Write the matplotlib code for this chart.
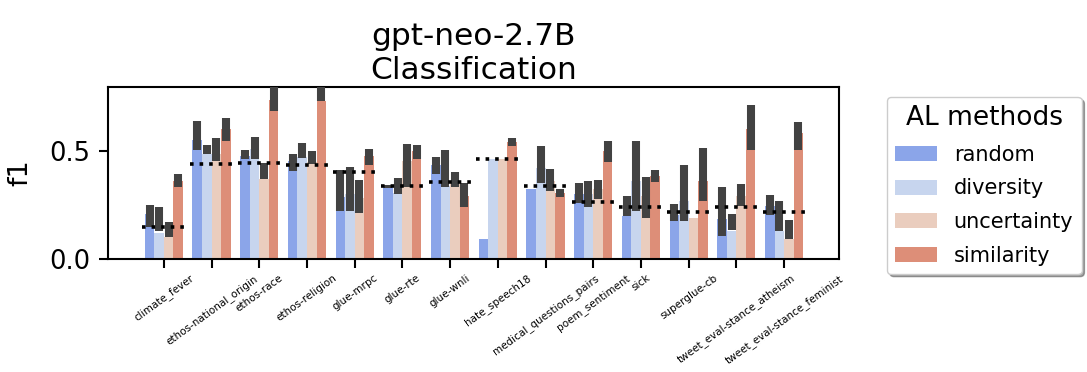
import colorsys

import matplotlib
matplotlib.use('Agg')
import matplotlib.pyplot as plt
import numpy as np

datasets = ["climate_fever", "ethos-national_origin", "ethos-race", "ethos-religion",
            "glue-mrpc", "glue-rte", "glue-wnli", "hate_speech18",
            "medical_questions_pairs", "poem_sentiment", "sick", "superglue-cb",
            "tweet_eval-stance_atheism", "tweet_eval-stance_feminist"]
methods = ["random", "diversity", "uncertainty", "similarity"]

# mean f1 per method
random_f1 = [0.21, 0.555, 0.48, 0.455, 0.29, 0.338, 0.435, 0.093, 0.326, 0.30, 0.20, 0.205, 0.185, 0.248]
diversity_f1 = [0.123, 0.49, 0.51, 0.475, 0.30, 0.307, 0.338, 0.467, 0.424, 0.30, 0.361, 0.27, 0.131, 0.131]
uncertainty_f1 = [0.10, 0.49, 0.374, 0.45, 0.283, 0.455, 0.361, 0.467, 0.364, 0.326, 0.294, 0.19, 0.291, 0.092]
similarity_f1 = [0.364, 0.606, 0.74, 0.735, 0.478, 0.501, 0.294, 0.544, 0.307, 0.501, 0.385, 0.361, 0.606, 0.584]

# confidence intervals (low / high)
random_lo = [0.151, 0.505, 0.463, 0.408, 0.221, 0.33, 0.393, 0.093, 0.326, 0.26, 0.201, 0.175, 0.107, 0.206]
random_hi = [0.249, 0.64, 0.505, 0.49, 0.413, 0.345, 0.475, 0.093, 0.326, 0.354, 0.294, 0.256, 0.335, 0.299]
diversity_lo = [0.128, 0.49, 0.463, 0.47, 0.221, 0.304, 0.335, 0.467, 0.354, 0.244, 0.221, 0.175, 0.136, 0.131]
diversity_hi = [0.242, 0.53, 0.569, 0.54, 0.428, 0.377, 0.509, 0.467, 0.525, 0.361, 0.548, 0.435, 0.209, 0.268]
uncertainty_lo = [0.10, 0.455, 0.374, 0.444, 0.216, 0.335, 0.335, 0.467, 0.315, 0.28, 0.19, 0.19, 0.248, 0.092]
uncertainty_hi = [0.17, 0.564, 0.447, 0.501, 0.369, 0.537, 0.403, 0.467, 0.42, 0.369, 0.382, 0.19, 0.349, 0.179]
similarity_lo = [0.335, 0.548, 0.688, 0.735, 0.439, 0.463, 0.242, 0.525, 0.287, 0.45, 0.357, 0.268, 0.506, 0.509]
similarity_hi = [0.394, 0.657, 0.86, 0.86, 0.512, 0.53, 0.354, 0.564, 0.326, 0.551, 0.413, 0.517, 0.716, 0.637]

# zero-shot baseline (dotted lines)
baseline_f1 = [0.151, 0.44, 0.447, 0.436, 0.405, 0.341, 0.357, 0.467, 0.338, 0.263, 0.24, 0.218, 0.244, 0.218]


def desaturate(color, prop):
    h, l, s = colorsys.rgb_to_hls(*color[:3])
    return colorsys.hls_to_rgb(h, l, s * prop)


cmap = plt.cm.coolwarm
colors = [desaturate(cmap(v), 0.75) for v in (0.2, 0.4, 0.6, 0.8)]

means = [random_f1, diversity_f1, uncertainty_f1, similarity_f1]
lows = [random_lo, diversity_lo, uncertainty_lo, similarity_lo]
highs = [random_hi, diversity_hi, uncertainty_hi, similarity_hi]

fig = plt.figure(figsize=(10.87, 3.72), dpi=100)
ax = fig.add_axes([0.0994, 0.3038, 0.6724, 0.4624])

x = np.arange(len(datasets))
width = 0.2
for k, method in enumerate(methods):
    pos = x - 0.4 + width * (k + 0.5)
    ax.bar(pos, means[k], width=width, color=colors[k], label=method, zorder=2)
    ax.vlines(pos, lows[k], highs[k], color='.26', linewidth=5.8, zorder=3,
              capstyle='butt')

for i, b in enumerate(baseline_f1):
    ax.hlines(b, i - 0.45, i + 0.45, colors='black', linestyles=':', linewidth=2.6, zorder=4)

ax.set_xlim(-1.17, 14.15)
ax.set_ylim(0, 0.8)
ax.set_yticks([0.0, 0.5])
ax.set_yticklabels(["0.0", "0.5"], fontsize=18.5)
ax.set_xticks(x)
ax.set_xticklabels(datasets, rotation=36, fontsize=7.5)
ax.tick_params(axis='both', which='major', length=6.5, width=1.5)
ax.tick_params(axis='y', pad=6)
for spine in ax.spines.values():
    spine.set_linewidth(1.5)
ax.set_ylabel("f1", fontsize=19.5, labelpad=12)
ax.set_title("gpt-neo-2.7B\nClassification", fontsize=22.5)

fig.legend(loc='upper left', bbox_to_anchor=(887 / 1087, 1 - 97 / 372),
           bbox_transform=fig.transFigure, borderaxespad=0, shadow=True,
           title="AL methods", fontsize=15, title_fontsize=19,
           labelspacing=0.65, handleheight=0.75)

fig.savefig("out.png", dpi=100)
